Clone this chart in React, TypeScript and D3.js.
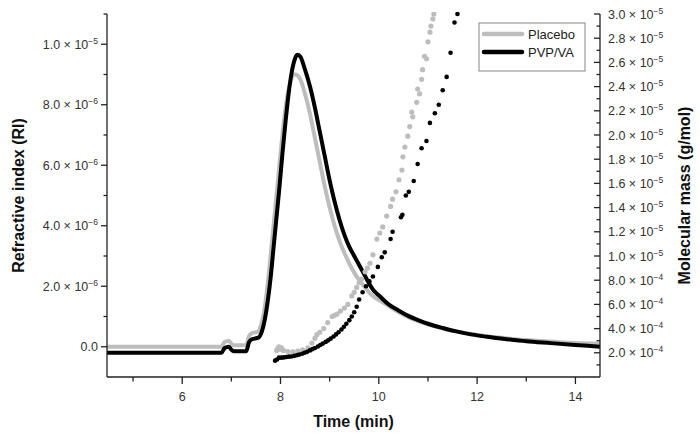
import React from "react";
import * as d3 from "d3";

// ---------- data ----------
// Refractive index traces (units of 1e-6)
const pvpRiTime = [4.47, 6.8, 6.86, 6.95, 7.0, 7.05, 7.3, 7.36, 7.42, 7.55, 7.62, 7.68, 7.74, 7.8, 7.86, 7.92, 7.98, 8.04, 8.1, 8.16, 8.22, 8.28, 8.34, 8.4, 8.5, 8.6, 8.7, 8.8, 8.9, 9.0, 9.1, 9.2, 9.3, 9.4, 9.5, 9.6, 9.7, 9.8, 9.9, 10.0, 10.2, 10.4, 10.6, 10.8, 11.0, 11.3, 11.6, 11.9, 12.2, 12.6, 13.0, 13.5, 14.0, 14.5];
const pvpRi = [-0.2, -0.2, -0.05, 0.0, -0.1, -0.15, -0.15, 0.15, 0.25, 0.3, 0.5, 0.9, 1.5, 2.3, 3.3, 4.3, 5.3, 6.4, 7.4, 8.3, 9.0, 9.45, 9.65, 9.6, 9.15, 8.6, 7.9, 7.1, 6.3, 5.5, 4.8, 4.2, 3.7, 3.3, 3.0, 2.7, 2.4, 2.1, 1.85, 1.7, 1.4, 1.2, 1.02, 0.88, 0.76, 0.62, 0.5, 0.4, 0.33, 0.25, 0.18, 0.12, 0.06, 0.0];

const placeboRiTime = [4.47, 6.8, 6.86, 6.95, 7.0, 7.05, 7.3, 7.36, 7.42, 7.55, 7.6, 7.66, 7.72, 7.78, 7.84, 7.9, 7.96, 8.02, 8.08, 8.14, 8.2, 8.26, 8.3, 8.4, 8.5, 8.6, 8.7, 8.8, 8.9, 9.0, 9.1, 9.2, 9.3, 9.4, 9.5, 9.6, 9.7, 9.8, 9.9, 10.0, 10.2, 10.4, 10.6, 10.8, 11.0, 11.3, 11.6, 11.9, 12.2, 12.6, 13.0, 13.5, 14.0, 14.5];
const placeboRi = [0.0, 0.0, 0.15, 0.2, 0.1, 0.05, 0.05, 0.35, 0.45, 0.5, 0.7, 1.1, 1.8, 2.7, 3.7, 4.7, 5.7, 6.7, 7.6, 8.3, 8.75, 8.98, 9.0, 8.85, 8.35, 7.7, 6.9, 6.1, 5.3, 4.6, 4.0, 3.5, 3.1, 2.75, 2.45, 2.2, 2.0, 1.8, 1.65, 1.55, 1.35, 1.15, 0.98, 0.85, 0.74, 0.6, 0.5, 0.42, 0.35, 0.28, 0.22, 0.17, 0.12, 0.1];

// Molecular mass points (right-axis units)
const pvpMwTime = [7.89, 7.93, 7.97, 8.02, 8.07, 8.12, 8.17, 8.22, 8.28, 8.33, 8.38, 8.44, 8.49, 8.54, 8.6, 8.65, 8.7, 8.76, 8.81, 8.86, 8.92, 8.97, 9.02, 9.08, 9.13, 9.18, 9.24, 9.29, 9.34, 9.4, 9.45, 9.5, 9.55, 9.6, 9.67, 9.74, 9.81, 9.88, 9.98, 10.06, 10.12, 10.24, 10.28, 10.45, 10.48, 10.55, 10.61, 10.71, 10.79, 10.87, 10.97, 11.04, 11.14, 11.22, 11.3, 11.38, 11.46, 11.54, 11.6];
const pvpMw = [1.35, 1.45, 1.6, 1.6, 1.62, 1.65, 1.68, 1.7, 1.75, 1.8, 1.85, 1.92, 2.0, 2.08, 2.2, 2.3, 2.4, 2.52, 2.64, 2.76, 2.9, 3.03, 3.17, 3.35, 3.52, 3.7, 3.92, 4.15, 4.4, 4.7, 5.0, 5.35, 5.8, 6.4, 7.0, 7.5, 7.9, 8.3, 9.1, 9.9, 10.3, 11.4, 12.0, 13.2, 13.4, 15.0, 15.3, 16.2, 17.6, 18.9, 19.5, 21.0, 21.8, 22.5, 23.7, 24.8, 26.8, 29.3, 30.0];

const placeboMwTime = [7.92, 7.95, 7.97, 7.99, 8.02, 8.06, 8.15, 8.25, 8.35, 8.45, 8.56, 8.64, 8.7, 8.74, 8.8, 8.88, 8.96, 9.05, 9.1, 9.15, 9.22, 9.3, 9.37, 9.45, 9.5, 9.55, 9.6, 9.65, 9.72, 9.77, 9.82, 9.88, 9.96, 10.02, 10.08, 10.16, 10.24, 10.28, 10.35, 10.41, 10.47, 10.49, 10.53, 10.59, 10.63, 10.69, 10.67, 10.77, 10.83, 10.79, 10.87, 10.89, 10.97, 10.93, 11.0, 11.04, 11.06, 11.1, 11.12];
const placeboMw = [2.2, 2.4, 2.5, 2.3, 2.4, 2.2, 2.1, 2.07, 2.15, 2.25, 2.4, 2.8, 3.2, 3.5, 3.7, 4.0, 4.5, 5.0, 5.1, 5.2, 5.45, 5.7, 6.0, 6.7, 7.0, 7.4, 7.8, 8.1, 8.7, 9.0, 9.4, 10.1, 11.4, 11.9, 12.4, 13.3, 14.1, 14.7, 15.3, 16.3, 17.1, 18.2, 19.0, 19.9, 20.7, 21.5, 21.9, 22.7, 23.4, 23.8, 24.6, 25.4, 26.3, 26.5, 27.7, 28.5, 29.0, 29.6, 30.0];

// Axis ticks
const xMajorTicks = [6, 8, 10, 12, 14];
const xMinorTicks = [5, 7, 9, 11, 13];
const leftMajorTicks = [0, 2, 4, 6, 8, 10];
const leftMinorTicks = [1, 3, 5, 7, 9, 11];
const leftMantissa = ["0.0", "2.0", "4.0", "6.0", "8.0", "1.0"];
const leftExponent = ["", "−6", "−6", "−6", "−6", "−5"];
const rightMajorTicks = [2, 4, 6, 8, 10, 12, 14, 16, 18, 20, 22, 24, 26, 28, 30];
const rightMinorTicks = [1, 3, 5, 7, 9, 11, 13, 15, 17, 19, 21, 23, 25, 27, 29];
const rightMantissa = ["2.0", "4.0", "6.0", "8.0", "1.0", "1.2", "1.4", "1.6", "1.8", "2.0", "2.2", "2.4", "2.6", "2.8", "3.0"];
const rightExponent = ["−4", "−4", "−4", "−4", "−5", "−5", "−5", "−5", "−5", "−5", "−5", "−5", "−5", "−5", "−5"];

const seriesNames = ["Placebo", "PVP/VA"];
const seriesColors = ["#bdbdbd", "#000000"];

// ---------- layout ----------
const W = 700, H = 440;
const L = 107, R = 600, T = 14, B = 377;
const FONT = "'Liberation Sans', Arial, sans-serif";

export default function App() {
  const x = d3.scaleLinear().domain([4.47, 14.5]).range([L, R]);
  const yL = d3.scaleLinear().domain([-1, 11]).range([B, T]);
  const yR = d3.scaleLinear().domain([0, 30]).range([B, T]);

  const line = d3.line<[number, number]>().x(d => x(d[0])).y(d => yL(d[1])).curve(d3.curveMonotoneX);
  const placeboPath = line(placeboRiTime.map((t, i) => [t, placeboRi[i]] as [number, number])) || "";
  const pvpPath = line(pvpRiTime.map((t, i) => [t, pvpRi[i]] as [number, number])) || "";

  const tickColor = "#222";
  const labelColor = "#333";

  return (
    <svg width={W} height={H} style={{ position: "absolute", left: 0, top: 0, background: "#fff" }} fontFamily={FONT}>
      <defs>
        <clipPath id="plotClip">
          <rect x={L} y={T - 2} width={R - L} height={B - T + 2} />
        </clipPath>
      </defs>
      <rect x={0} y={0} width={W} height={H} fill="#fff" />

      <g clipPath="url(#plotClip)">
        <path d={placeboPath} fill="none" stroke={seriesColors[0]} strokeWidth={4} strokeLinejoin="round" />
        <path d={pvpPath} fill="none" stroke={seriesColors[1]} strokeWidth={4} strokeLinejoin="round" />
        {placeboMwTime.map((t, i) => (
          <circle key={"pm" + i} cx={x(t)} cy={yR(placeboMw[i])} r={2.6} fill={seriesColors[0]} />
        ))}
        {pvpMwTime.map((t, i) => (
          <circle key={"vm" + i} cx={x(t)} cy={yR(pvpMw[i])} r={2.3} fill={seriesColors[1]} />
        ))}
      </g>

      {/* axes lines */}
      <g stroke={tickColor} strokeWidth={1.3} fill="none">
        <line x1={L} y1={T} x2={L} y2={B} />
        <line x1={L} y1={B} x2={R} y2={B} />
        <line x1={R} y1={T} x2={R} y2={B} />
        {xMajorTicks.map(v => <line key={"xM" + v} x1={x(v)} x2={x(v)} y1={B} y2={B + 7} />)}
        {xMinorTicks.map(v => <line key={"xm" + v} x1={x(v)} x2={x(v)} y1={B} y2={B + 4.5} />)}
        {leftMajorTicks.map(v => <line key={"lM" + v} x1={L - 6} x2={L} y1={yL(v)} y2={yL(v)} />)}
        {leftMinorTicks.map(v => <line key={"lm" + v} x1={L - 3.5} x2={L} y1={yL(v)} y2={yL(v)} />)}
        {rightMajorTicks.map(v => <line key={"rM" + v} x1={R - 6} x2={R} y1={yR(v)} y2={yR(v)} />)}
        {rightMinorTicks.map(v => <line key={"rm" + v} x1={R - 3.5} x2={R} y1={yR(v)} y2={yR(v)} />)}
      </g>

      {/* x tick labels */}
      {xMajorTicks.map(v => (
        <text key={"xl" + v} x={x(v)} y={B + 24} textAnchor="middle" fontSize={12.5} fill={labelColor}>{v}</text>
      ))}

      {/* left tick labels */}
      {leftMajorTicks.map((v, i) => (
        <text key={"ll" + v} x={L - 9} y={yL(v) + 4.5} textAnchor="end" fontSize={12.5} fill={labelColor}>
          {leftExponent[i] ? (
            <>
              <tspan>{leftMantissa[i]} × 10</tspan>
              <tspan fontSize={8.5} dy={-5}>{leftExponent[i]}</tspan>
            </>
          ) : (
            <tspan>{leftMantissa[i]}</tspan>
          )}
        </text>
      ))}

      {/* right tick labels */}
      {rightMajorTicks.map((v, i) => (
        <text key={"rl" + v} x={R + 8} y={yR(v) + 4.5} textAnchor="start" fontSize={12.5} fill={labelColor}>
          <tspan>{rightMantissa[i]} × 10</tspan>
          <tspan fontSize={8.5} dy={-5}>{rightExponent[i]}</tspan>
        </text>
      ))}

      {/* axis titles */}
      <text x={(L + R) / 2} y={427} textAnchor="middle" fontSize={16} fontWeight="bold" fill="#111">Time (min)</text>
      <text transform={`translate(24,${(T + B) / 2}) rotate(-90)`} textAnchor="middle" fontSize={16} fontWeight="bold" fill="#111">Refractive index (RI)</text>
      <text transform={`translate(690,${(T + B) / 2}) rotate(-90)`} textAnchor="middle" fontSize={16} fontWeight="bold" fill="#111">Molecular mass (g/mol)</text>

      {/* legend */}
      <g>
        <rect x={479} y={23} width={106} height={48} fill="#fff" stroke="#888" strokeWidth={1} />
        <line x1={484} x2={522} y1={34} y2={34} stroke={seriesColors[0]} strokeWidth={4.5} strokeLinecap="round" />
        <line x1={484} x2={522} y1={52} y2={52} stroke={seriesColors[1]} strokeWidth={4.5} strokeLinecap="round" />
        <text x={528} y={38.5} fontSize={13} fill="#222">{seriesNames[0]}</text>
        <text x={528} y={57} fontSize={13} fill="#222">{seriesNames[1]}</text>
      </g>
    </svg>
  );
}
